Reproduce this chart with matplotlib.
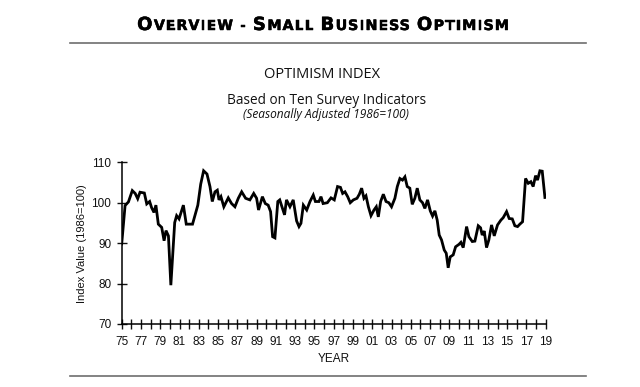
import matplotlib
matplotlib.use('Agg')
import matplotlib.pyplot as plt
import matplotlib.patheffects as pe
from matplotlib.lines import Line2D

W, H = 640, 387
DPI = 100

# index readings (decimal year, value)
years = [1975.0, 1975.35, 1975.7, 1976.1, 1976.4, 1976.66, 1976.9, 1977.35, 1977.6, 1977.9,
         1978.1, 1978.35, 1978.55, 1978.8, 1979.15, 1979.4, 1979.6, 1979.85, 1980.1, 1980.5,
         1980.7, 1980.95, 1981.4, 1981.7, 1982.1, 1982.35, 1982.6, 1982.9, 1983.2, 1983.5,
         1983.85, 1984.16, 1984.4, 1984.68, 1984.92, 1985.1, 1985.3, 1985.6, 1986.06, 1986.4,
         1986.75, 1987.1, 1987.45, 1987.86, 1988.3, 1988.7, 1989.0, 1989.2, 1989.6, 1989.9,
         1990.2, 1990.45, 1990.66, 1990.9, 1991.2, 1991.4, 1991.9, 1992.1, 1992.46, 1992.8,
         1993.15, 1993.4, 1993.6, 1993.85, 1994.2, 1994.54, 1994.88, 1995.1, 1995.47, 1995.68,
         1995.9, 1996.34, 1996.72, 1997.06, 1997.4, 1997.7, 1997.93, 1998.17, 1998.45, 1998.72,
         1999.04, 1999.42, 1999.66, 1999.9, 2000.14, 2000.35, 2000.6, 2000.87, 2001.18, 2001.42,
         2001.63, 2001.87, 2002.15, 2002.43, 2002.72, 2003.0, 2003.35, 2003.6, 2003.87, 2004.14,
         2004.39, 2004.63, 2004.9, 2005.15, 2005.42, 2005.67, 2005.94, 2006.22, 2006.46, 2006.74,
         2007.02, 2007.26, 2007.5, 2007.74, 2007.95, 2008.19, 2008.47, 2008.68, 2008.88, 2009.09,
         2009.4, 2009.65, 2010.0, 2010.2, 2010.44, 2010.79, 2011.03, 2011.38, 2011.65, 2012.0,
         2012.24, 2012.41, 2012.62, 2012.86, 2013.1, 2013.38, 2013.66, 2014.0, 2014.35, 2014.59,
         2014.94, 2015.21, 2015.53, 2015.8, 2016.08, 2016.32, 2016.6, 2016.91, 2017.19, 2017.46,
         2017.7, 2017.95, 2018.15, 2018.4, 2018.64, 2018.92]
index_values = [89.8, 99.3, 100.2, 103.0, 102.3, 101.0, 102.6, 102.4, 99.7, 100.3,
                98.8, 97.6, 99.4, 94.7, 93.9, 90.6, 93.1, 91.8, 79.6, 95.1,
                96.8, 96.0, 99.4, 94.7, 94.7, 94.7, 96.8, 99.4, 104.6, 107.9,
                107.1, 104.0, 100.3, 102.7, 103.1, 100.7, 101.5, 99.0, 101.2, 99.8,
                99.0, 101.1, 102.7, 101.1, 100.7, 102.3, 101.1, 98.2, 101.5, 99.8,
                99.4, 97.8, 91.6, 91.3, 100.3, 100.7, 97.0, 100.7, 99.0, 100.7,
                95.5, 94.1, 94.9, 99.4, 98.2, 100.3, 101.9, 100.3, 100.3, 101.5,
                99.8, 100.0, 101.2, 100.7, 104.0, 103.8, 102.3, 102.7, 101.5, 100.0,
                100.7, 101.1, 102.1, 103.6, 101.1, 101.7, 99.0, 96.8, 98.2, 99.0,
                96.5, 100.3, 102.1, 100.3, 100.0, 99.0, 101.1, 104.0, 106.0, 105.6,
                106.4, 104.0, 103.6, 99.6, 101.1, 103.6, 100.7, 100.0, 98.6, 100.7,
                98.0, 96.7, 98.0, 95.7, 92.0, 90.8, 88.3, 87.5, 83.9, 86.6,
                87.1, 89.1, 89.7, 90.2, 88.9, 94.1, 91.6, 90.4, 90.5, 94.3,
                93.8, 92.0, 93.0, 88.9, 90.8, 94.5, 91.8, 94.5, 95.7, 96.3,
                97.8, 96.1, 96.0, 94.3, 94.1, 94.7, 95.3, 106.0, 104.8, 105.2,
                104.0, 106.7, 105.6, 107.9, 107.8, 101.3]

tick_years = list(range(1975, 2020))
tick_labels = ['{:02d}'.format(y % 100) if (y - 1975) % 2 == 0 else '' for y in tick_years]
y_ticks = [70, 80, 90, 100, 110]

TEXT = '#111111'
fig = plt.figure(figsize=(W / DPI, H / DPI), dpi=DPI)
fig.patch.set_facecolor('white')

# main plot area
ax = fig.add_axes([121.7 / W, 1 - 324 / H, (545.7 - 121.7) / W, (324 - 162.3) / H])
ax.plot(years, index_values, color='black', lw=2.0, solid_joinstyle='miter')
ax.set_xlim(1975, 2019)
ax.set_ylim(70, 110)
ax.set_xticks(tick_years)
ax.set_xticklabels(tick_labels)
ax.set_yticks(y_ticks)
for side in ['top', 'right']:
    ax.spines[side].set_visible(False)
for side in ['left', 'bottom']:
    ax.spines[side].set_linewidth(1.1)
ax.tick_params(direction='inout', length=7, width=1.0, colors=TEXT,
               labelsize=8.5, labelcolor=TEXT)
ax.tick_params(axis='x', pad=5)
ax.tick_params(axis='y', pad=4)
for lab in ax.get_xticklabels() + ax.get_yticklabels():
    lab.set_family('Liberation Sans')
ax.set_xlabel('YEAR', family='Liberation Sans', fontsize=8.5, color=TEXT, labelpad=4)
ax.set_ylabel('Index Value (1986=100)', family='Liberation Sans', fontsize=8,
              color=TEXT, labelpad=3)

# header texts
fig.text(322 / W, 1 - 75 / H, 'OPTIMISM INDEX', ha='center', va='center',
         family='Open Sans', fontsize=10.5, color=TEXT)
fig.text(327 / W, 1 - 100 / H, 'Based on Ten Survey Indicators', ha='center', va='center',
         family='Open Sans', fontsize=9.8, color=TEXT)
fig.text(326 / W, 1 - 114.5 / H, '(Seasonally Adjusted 1986=100)', ha='center', va='center',
         family='Open Sans', style='italic', fontsize=8.6, color=TEXT)

# small-caps title, letter by letter with a little tracking
renderer = fig.canvas.get_renderer()
BIG, SMALL, TRACK = 13, 10.3, 1.0
words = ['OVERVIEW', '-', 'SMALL', 'BUSINESS', 'OPTIMISM']
title_y = 1 - 30 / H


def text_width(s, size):
    tmp = fig.text(0, 0, s, family='DejaVu Sans', weight='bold', fontsize=size)
    w = tmp.get_window_extent(renderer).width
    tmp.remove()
    return w


xpos = 0.0
title_parts = []
for word in words:
    if word == '-':
        head, tail = '', word
    else:
        head, tail = word[0], word[1:]
    if head:
        t = fig.text(0, title_y, head, ha='left', va='baseline', family='DejaVu Sans',
                     weight='bold', fontsize=BIG, color='black')
        title_parts.append((t, xpos))
        xpos += text_width(head, BIG) + TRACK + 0.5
    start = xpos
    for j, ch in enumerate(tail):
        px = start + (text_width(tail[:j + 1], SMALL) - text_width(ch, SMALL)) + j * TRACK
        t = fig.text(0, title_y, ch, ha='left', va='baseline', family='DejaVu Sans',
                     weight='bold', fontsize=SMALL, color='black')
        title_parts.append((t, px))
    xpos = start + text_width(tail, SMALL) + (len(tail) - 1) * TRACK + 7
xpos -= 7
for t, px in title_parts:
    t.set_path_effects([pe.withStroke(linewidth=0.35, foreground='black')])
shift = 323 - xpos / 2
for t, px in title_parts:
    t.set_x((px + shift) / W)

# horizontal rules
for yy in [43, 376]:
    fig.add_artist(Line2D([70 / W, 586 / W], [1 - yy / H, 1 - yy / H],
                          transform=fig.transFigure, color='#6e6e6e', lw=1.2))

fig.savefig('out.png', dpi=DPI)
